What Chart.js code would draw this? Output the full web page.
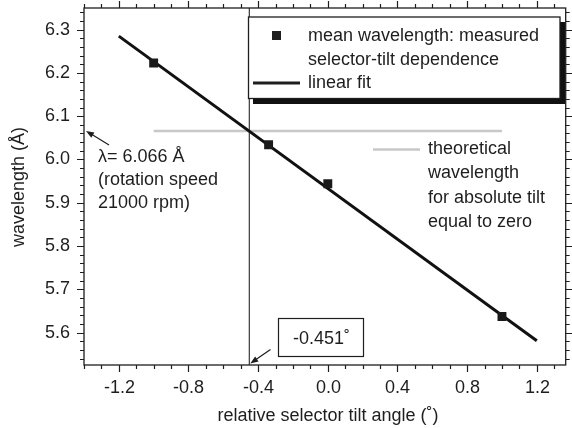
<!DOCTYPE html>
<html>
<head>
<meta charset="utf-8">
<script src="https://cdn.jsdelivr.net/npm/chart.js@4/dist/chart.umd.min.js"></script>
<style>
  html, body { margin: 0; padding: 0; background: #fff; }
  #wrap { width: 572px; height: 428px; }
</style>
</head>
<body>
<div id="wrap"><canvas id="chart" width="572" height="428"></canvas></div>
<script>
// measured mean wavelength vs relative tilt
var tiltX = [-1.0, -0.34, 0.0, 1.0];
var waveY = [6.223, 6.034, 5.944, 5.637];

// linear fit end points
var fitX = [-1.2, 1.2];
var fitY = [6.285, 5.581];

// theoretical wavelength, and the tilt where the fit crosses it
var lambdaTheo = 6.066;
var theoX = [-1.0, 1.0];
var tiltZero = -0.451;

var xMin = -1.4, xMax = 1.366;
var yMin = 5.525, yMax = 6.35;

var FONT = '"Liberation Sans", Arial, Helvetica, sans-serif';
var INK = '#1e1e1e';

function pts(xs, ys) {
  return xs.map(function (x, i) { return { x: x, y: ys[i] }; });
}

function arrow(ctx, x0, y0, x1, y1) {
  var a = Math.atan2(y1 - y0, x1 - x0);
  ctx.beginPath();
  ctx.moveTo(x0, y0);
  ctx.lineTo(x1 - 6 * Math.cos(a), y1 - 6 * Math.sin(a));
  ctx.stroke();
  ctx.beginPath();
  ctx.moveTo(x1, y1);
  ctx.lineTo(x1 - 8 * Math.cos(a) + 3 * Math.sin(a), y1 - 8 * Math.sin(a) - 3 * Math.cos(a));
  ctx.lineTo(x1 - 8 * Math.cos(a) - 3 * Math.sin(a), y1 - 8 * Math.sin(a) + 3 * Math.cos(a));
  ctx.closePath();
  ctx.fill();
}

var decor = {
  id: 'decor',
  afterDraw: function (chart) {
    var ctx = chart.ctx, ca = chart.chartArea;
    var sx = chart.scales.x, sy = chart.scales.y;
    ctx.save();
    ctx.strokeStyle = INK;
    ctx.fillStyle = INK;

    // frame
    ctx.lineWidth = 1.3;
    ctx.strokeRect(ca.left, ca.top, ca.right - ca.left, ca.bottom - ca.top);

    // x ticks (bottom + top, outward)
    ctx.font = '18px ' + FONT;
    ctx.textAlign = 'center';
    ctx.textBaseline = 'middle';
    ctx.lineWidth = 1.2;
    for (var i = -14; i <= 13; i++) {
      var v = i / 10, px = Math.round(sx.getPixelForValue(v)) + 0.5;
      var major = (i % 4 === 0);
      var len = major ? 7 : 4;
      ctx.beginPath();
      ctx.moveTo(px, ca.bottom); ctx.lineTo(px, ca.bottom + len);
      ctx.moveTo(px, ca.top); ctx.lineTo(px, ca.top - len);
      ctx.stroke();
      if (major) ctx.fillText(v.toFixed(1), px, 388);
    }

    // y ticks (left + right, outward)
    ctx.textAlign = 'right';
    for (var j = 277; j <= 317; j++) {
      var w = j / 50, py = Math.round(sy.getPixelForValue(w)) + 0.5;
      var maj = (j % 5 === 0);
      var l = maj ? 7 : 4;
      ctx.beginPath();
      ctx.moveTo(ca.left, py); ctx.lineTo(ca.left - l, py);
      ctx.moveTo(ca.right, py); ctx.lineTo(ca.right + l, py);
      ctx.stroke();
      if (maj) ctx.fillText(w.toFixed(1), 70, py);
    }

    // axis titles
    ctx.textAlign = 'center';
    ctx.fillText('relative selector tilt angle (\u02DA)', 328, 416);
    ctx.save();
    ctx.translate(19, 187);
    ctx.rotate(-Math.PI / 2);
    ctx.fillText('wavelength (\u00C5)', 0, 0);
    ctx.restore();

    // legend box with shadow
    ctx.fillStyle = '#111';
    ctx.fillRect(253, 22, 312, 82);
    ctx.fillStyle = '#fff';
    ctx.fillRect(248.5, 17, 311.5, 81.5);
    ctx.lineWidth = 1.3;
    ctx.strokeRect(248.5, 17, 311.5, 81.5);
    ctx.fillStyle = INK;
    ctx.fillRect(272, 31, 9, 9);
    ctx.lineWidth = 3;
    ctx.beginPath();
    ctx.moveTo(253, 83); ctx.lineTo(300, 83);
    ctx.stroke();
    ctx.textAlign = 'left';
    ctx.fillText('mean wavelength: measured', 308, 36);
    ctx.fillText('selector-tilt dependence', 308, 60);
    ctx.fillText('linear fit', 308, 83);

    // theoretical wavelength key
    ctx.strokeStyle = '#c8c8c8';
    ctx.lineWidth = 2.5;
    ctx.beginPath();
    ctx.moveTo(373, 149.5); ctx.lineTo(420, 149.5);
    ctx.stroke();
    ctx.fillText('theoretical', 428, 149);
    ctx.fillText('wavelength', 428, 173);
    ctx.fillText('for absolute tilt', 428, 198);
    ctx.fillText('equal to zero', 428, 222);

    // lambda annotation
    ctx.strokeStyle = INK;
    ctx.lineWidth = 1.2;
    ctx.fillText('\u03BB= ' + lambdaTheo.toFixed(3) + ' \u00C5', 98, 157);
    ctx.fillText('(rotation speed', 98, 180);
    ctx.fillText('21000 rpm)', 98, 203);
    arrow(ctx, 109, 145, ca.left + 2, sy.getPixelForValue(lambdaTheo));

    // tilt crossing box
    ctx.lineWidth = 1.2;
    ctx.strokeRect(278.5, 318.5, 85, 38);
    ctx.textAlign = 'center';
    ctx.fillText(tiltZero.toFixed(3) + '\u02DA', 321.5, 339);
    arrow(ctx, 270.5, 349.5, sx.getPixelForValue(tiltZero) + 1, ca.bottom - 1.5);

    ctx.restore();
  }
};

new Chart(document.getElementById('chart'), {
  type: 'scatter',
  data: {
    datasets: [
      {
        label: 'mean wavelength: measured selector-tilt dependence',
        data: pts(tiltX, waveY),
        pointStyle: 'rect',
        pointRadius: 6.3,
        backgroundColor: '#1a1a1a',
        borderColor: '#1a1a1a',
        borderWidth: 0
      },
      {
        type: 'line',
        label: 'linear fit',
        data: pts(fitX, fitY),
        borderColor: '#111',
        borderWidth: 3,
        pointRadius: 0,
        fill: false
      },
      {
        type: 'line',
        label: 'theoretical wavelength',
        data: pts(theoX, [lambdaTheo, lambdaTheo]),
        borderColor: '#c8c8c8',
        borderWidth: 2.5,
        pointRadius: 0,
        fill: false
      },
      {
        type: 'line',
        label: 'crossing',
        data: pts([tiltZero, tiltZero], [yMin, yMax]),
        borderColor: '#111',
        borderWidth: 1,
        pointRadius: 0,
        fill: false
      }
    ]
  },
  options: {
    responsive: false,
    animation: false,
    layout: { padding: { left: 84, right: 5, top: 8, bottom: 63 } },
    scales: {
      x: { type: 'linear', min: xMin, max: xMax, display: false },
      y: { type: 'linear', min: yMin, max: yMax, display: false }
    },
    plugins: { legend: { display: false }, tooltip: { enabled: false } }
  },
  plugins: [decor]
});
</script>
</body>
</html>
